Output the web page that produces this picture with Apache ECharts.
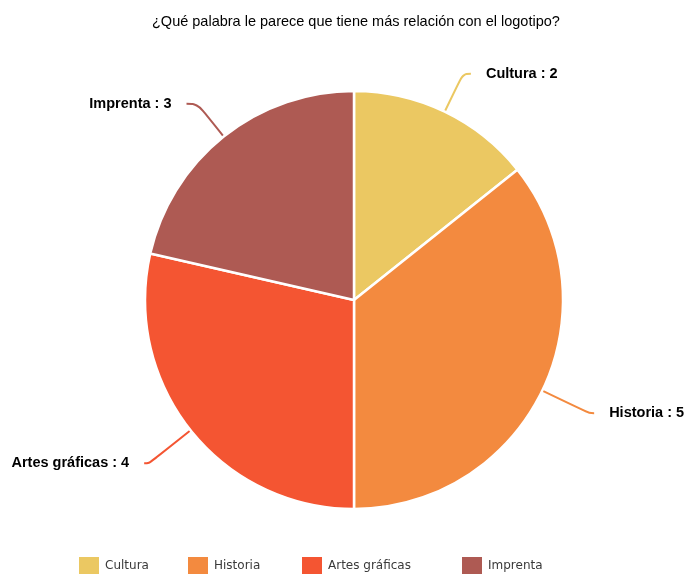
<!DOCTYPE html>
<html>
<head>
<meta charset="utf-8">
<script src="https://cdn.jsdelivr.net/npm/echarts@6/dist/echarts.min.js"></script>
<style>
  html, body { margin: 0; padding: 0; background: #fff; }
  #chart { width: 689px; height: 575px; }
</style>
</head>
<body>
<div id="chart"></div>
<script>
// Survey answers: which word relates most to the logo
const titleText = '¿Qué palabra le parece que tiene más relación con el logotipo?';
const categories = ['Cultura', 'Historia', 'Artes gráficas', 'Imprenta'];
const counts = [2, 5, 4, 3];

// Styling per slice
const colors = ['#EBC862', '#F38A3F', '#F45532', '#AE5A53'];
const leaderLines = [
  { length: 42, length2: 8 },
  { length: 52, length2: 5 },
  { length: 53, length2: 5 },
  { length: 42, length2: 11 }
];
const legendLefts = [77, 186, 300, 460];

const chart = echarts.init(document.getElementById('chart'));

const pieData = categories.map((name, i) => ({
  name: name,
  value: counts[i],
  itemStyle: { color: colors[i] },
  labelLine: leaderLines[i]
}));

const legends = categories.map((name, i) => ({
  data: [name],
  left: legendLefts[i],
  top: 555,
  padding: 0,
  orient: 'horizontal',
  icon: 'rect',
  itemWidth: 22,
  itemHeight: 19,
  itemGap: 6,
  selectedMode: false,
  textStyle: {
    fontFamily: 'DejaVu Sans',
    fontSize: 12,
    color: '#3a3a3a'
  }
}));

chart.setOption({
  backgroundColor: '#ffffff',
  animation: false,
  title: {
    text: titleText,
    left: 147,
    top: 9,
    textStyle: {
      fontFamily: 'Liberation Sans, Arial, sans-serif',
      fontSize: 14.5,
      fontWeight: 'normal',
      color: '#000'
    }
  },
  legend: legends,
  series: [{
    type: 'pie',
    center: [354, 300],
    radius: 209,
    startAngle: 90,
    clockwise: true,
    data: pieData,
    itemStyle: { borderColor: '#ffffff', borderWidth: 2.5 },
    label: {
      show: true,
      position: 'outside',
      formatter: '{b} : {c}',
      fontFamily: 'Liberation Sans, Arial, sans-serif',
      fontSize: 14.5,
      fontWeight: 'bold',
      color: '#000',
      overflow: 'none',
      distanceToLabelLine: 15
    },
    labelLine: {
      show: true,
      smooth: 0.4,
      lineStyle: { width: 2 }
    },
    emphasis: { disabled: true }
  }]
});
</script>
</body>
</html>
